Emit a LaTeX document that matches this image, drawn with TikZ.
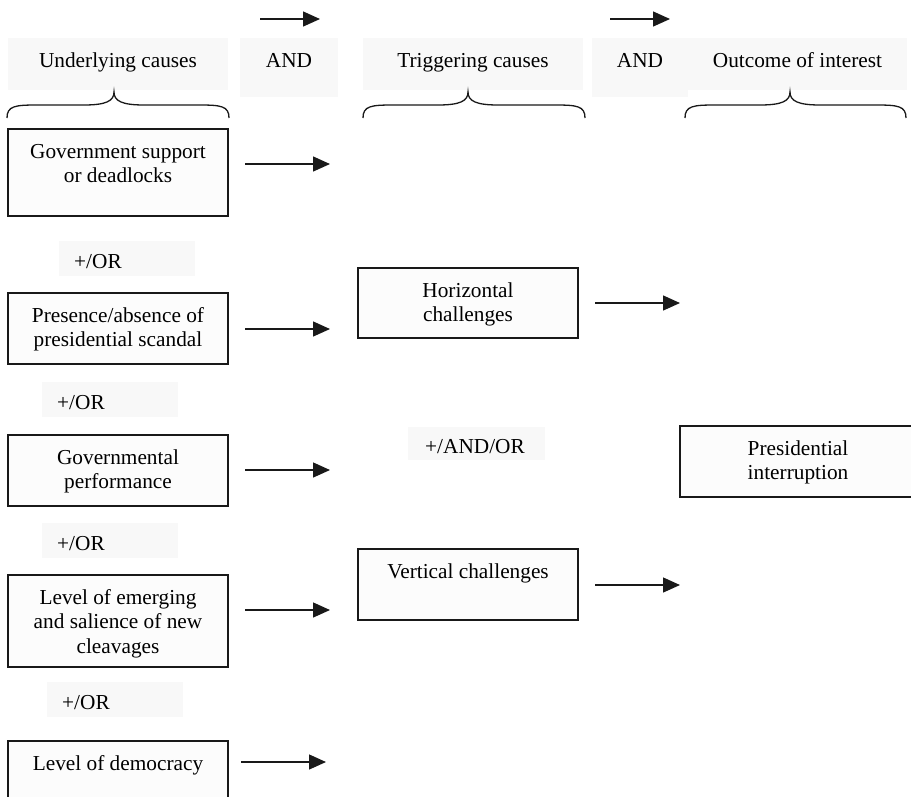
\documentclass[tikz,border=0pt]{standalone}
\usepackage{fontspec}
\setmainfont{Liberation Serif}
\usetikzlibrary{arrows.meta}
\definecolor{boxfill}{RGB}{252,252,252}
\definecolor{labelbg}{RGB}{248,248,248}
\definecolor{linec}{RGB}{25,25,25}
\newcommand\fs{\rule{0pt}{16pt}}
\newcommand\drawbrace[3]{%
  \draw[bracesty] (#1,118) .. controls (#1,106) and (#1+8,105) .. (#1+30,105)
    -- (#2-30,105) .. controls (#2-8,105) and (#2,101) .. (#2,92)
    .. controls (#2,101) and (#2+8,105) .. (#2+30,105)
    -- (#3-30,105) .. controls (#3-8,105) and (#3,106) .. (#3,118);}
\begin{document}
\begin{tikzpicture}[x=1pt,y=-1pt,
  font=\fontsize{21.3pt}{24.5pt}\selectfont,
  boxsty/.style={draw=linec, line width=1.5pt, fill=boxfill, inner sep=0pt, outer sep=0pt, minimum width=220pt},
  txt/.style={inner sep=0pt, text width=214pt, align=flush center, anchor=north},
  hdr/.style={fill=labelbg, inner sep=0pt, text height=12pt, text depth=6pt},
  orlab/.style={fill=labelbg, inner xsep=15pt, inner ysep=0pt, text width=106pt, align=flush left, text height=19pt, text depth=0pt, minimum height=35pt, anchor=west},
  arr/.style={draw=linec, line width=1.4pt, -{Triangle[length=17pt,width=15pt]}},
  bracesty/.style={draw=linec, line width=1.3pt}]
\useasboundingbox (0,0) rectangle (911,796);
\fill[white] (0,0) rectangle (911,796);

% header labels
\node[hdr, minimum width=220pt, minimum height=52pt] (hu) at (118,64) {Underlying causes};
\node[hdr, minimum width=98pt, minimum height=59pt, text depth=13pt] (hand1) at (289,67.5) {AND};
\node[hdr, minimum width=220pt, minimum height=52pt] (ht) at (473,64) {Triggering causes};
\node[hdr, minimum width=96pt, minimum height=59pt, text depth=13pt] (hand2) at (640,67.5) {AND};
\node[hdr, minimum width=219pt, minimum height=52pt] (ho) at (797.5,64) {Outcome of interest};

% top arrows
\coordinate (ta1s) at (260,19); \coordinate (ta1e) at (320,19);
\coordinate (ta2s) at (610,19); \coordinate (ta2e) at (670,19);
\draw[arr] (ta1s) -- (ta1e);
\draw[arr] (ta2s) -- (ta2e);

% braces
\drawbrace{7}{114}{229}
\drawbrace{363}{468}{585}
\drawbrace{685}{790}{906}

% left column boxes
\node[boxsty, minimum height=87pt] (b1) at (118,172.5) {};
\node[txt] (t1) at ([yshift=-13pt]b1.north) {\fs Government support\\or deadlocks};
\node[boxsty, minimum height=71pt] (b2) at (118,328.5) {};
\node[txt] (t2) at ([yshift=-13pt]b2.north) {\fs Presence/absence of\\presidential scandal};
\node[boxsty, minimum height=71pt] (b3) at (118,470.5) {};
\node[txt] (t3) at ([yshift=-13pt]b3.north) {\fs Governmental\\performance};
\node[boxsty, minimum height=92pt] (b4) at (118,621) {};
\node[txt] (t4) at ([yshift=-13pt]b4.north) {\fs Level of emerging\\and salience of new\\cleavages};
\node[boxsty, minimum height=100pt] (b5) at (118,791) {};
\node[txt] (t5) at ([yshift=-13pt]b5.north) {\fs Level of democracy};

% +/OR labels
\node[orlab] (or1) at (59,258.5) {+/OR};
\node[orlab] (or2) at (42,399.5) {+/OR};
\node[orlab] (or3) at (42,540.5) {+/OR};
\node[orlab] (or4) at (47,699.5) {+/OR};

% triggering boxes
\node[boxsty, minimum height=70pt] (h) at (468,303) {};
\node[txt] (th) at ([yshift=-13pt]h.north) {\fs Horizontal\\challenges};
\node[orlab, inner xsep=17pt, text width=103pt, minimum height=33pt] (andor) at (408,443.5) {+/AND/OR};
\node[boxsty, minimum height=71pt] (v) at (468,584.5) {};
\node[txt] (tv) at ([yshift=-13pt]v.north) {\fs Vertical challenges};

% outcome box
\node[boxsty, minimum width=236pt, minimum height=71pt] (p) at (798,461.5) {};
\node[txt] (tp) at ([yshift=-13pt]p.north) {\fs Presidential\\interruption};

% arrows
\coordinate (a1s) at (245,164); \coordinate (a1e) at (330,164);
\coordinate (a2s) at (245,329); \coordinate (a2e) at (330,329);
\coordinate (a3s) at (245,470); \coordinate (a3e) at (330,470);
\coordinate (a4s) at (245,610); \coordinate (a4e) at (330,610);
\coordinate (a5s) at (241,762); \coordinate (a5e) at (326,762);
\coordinate (ahs) at (595,303); \coordinate (ahe) at (680,303);
\coordinate (avs) at (595,585); \coordinate (ave) at (680,585);
\draw[arr] (a1s) -- (a1e);
\draw[arr] (a2s) -- (a2e);
\draw[arr] (a3s) -- (a3e);
\draw[arr] (a4s) -- (a4e);
\draw[arr] (a5s) -- (a5e);
\draw[arr] (ahs) -- (ahe);
\draw[arr] (avs) -- (ave);
\end{tikzpicture}
\end{document}
